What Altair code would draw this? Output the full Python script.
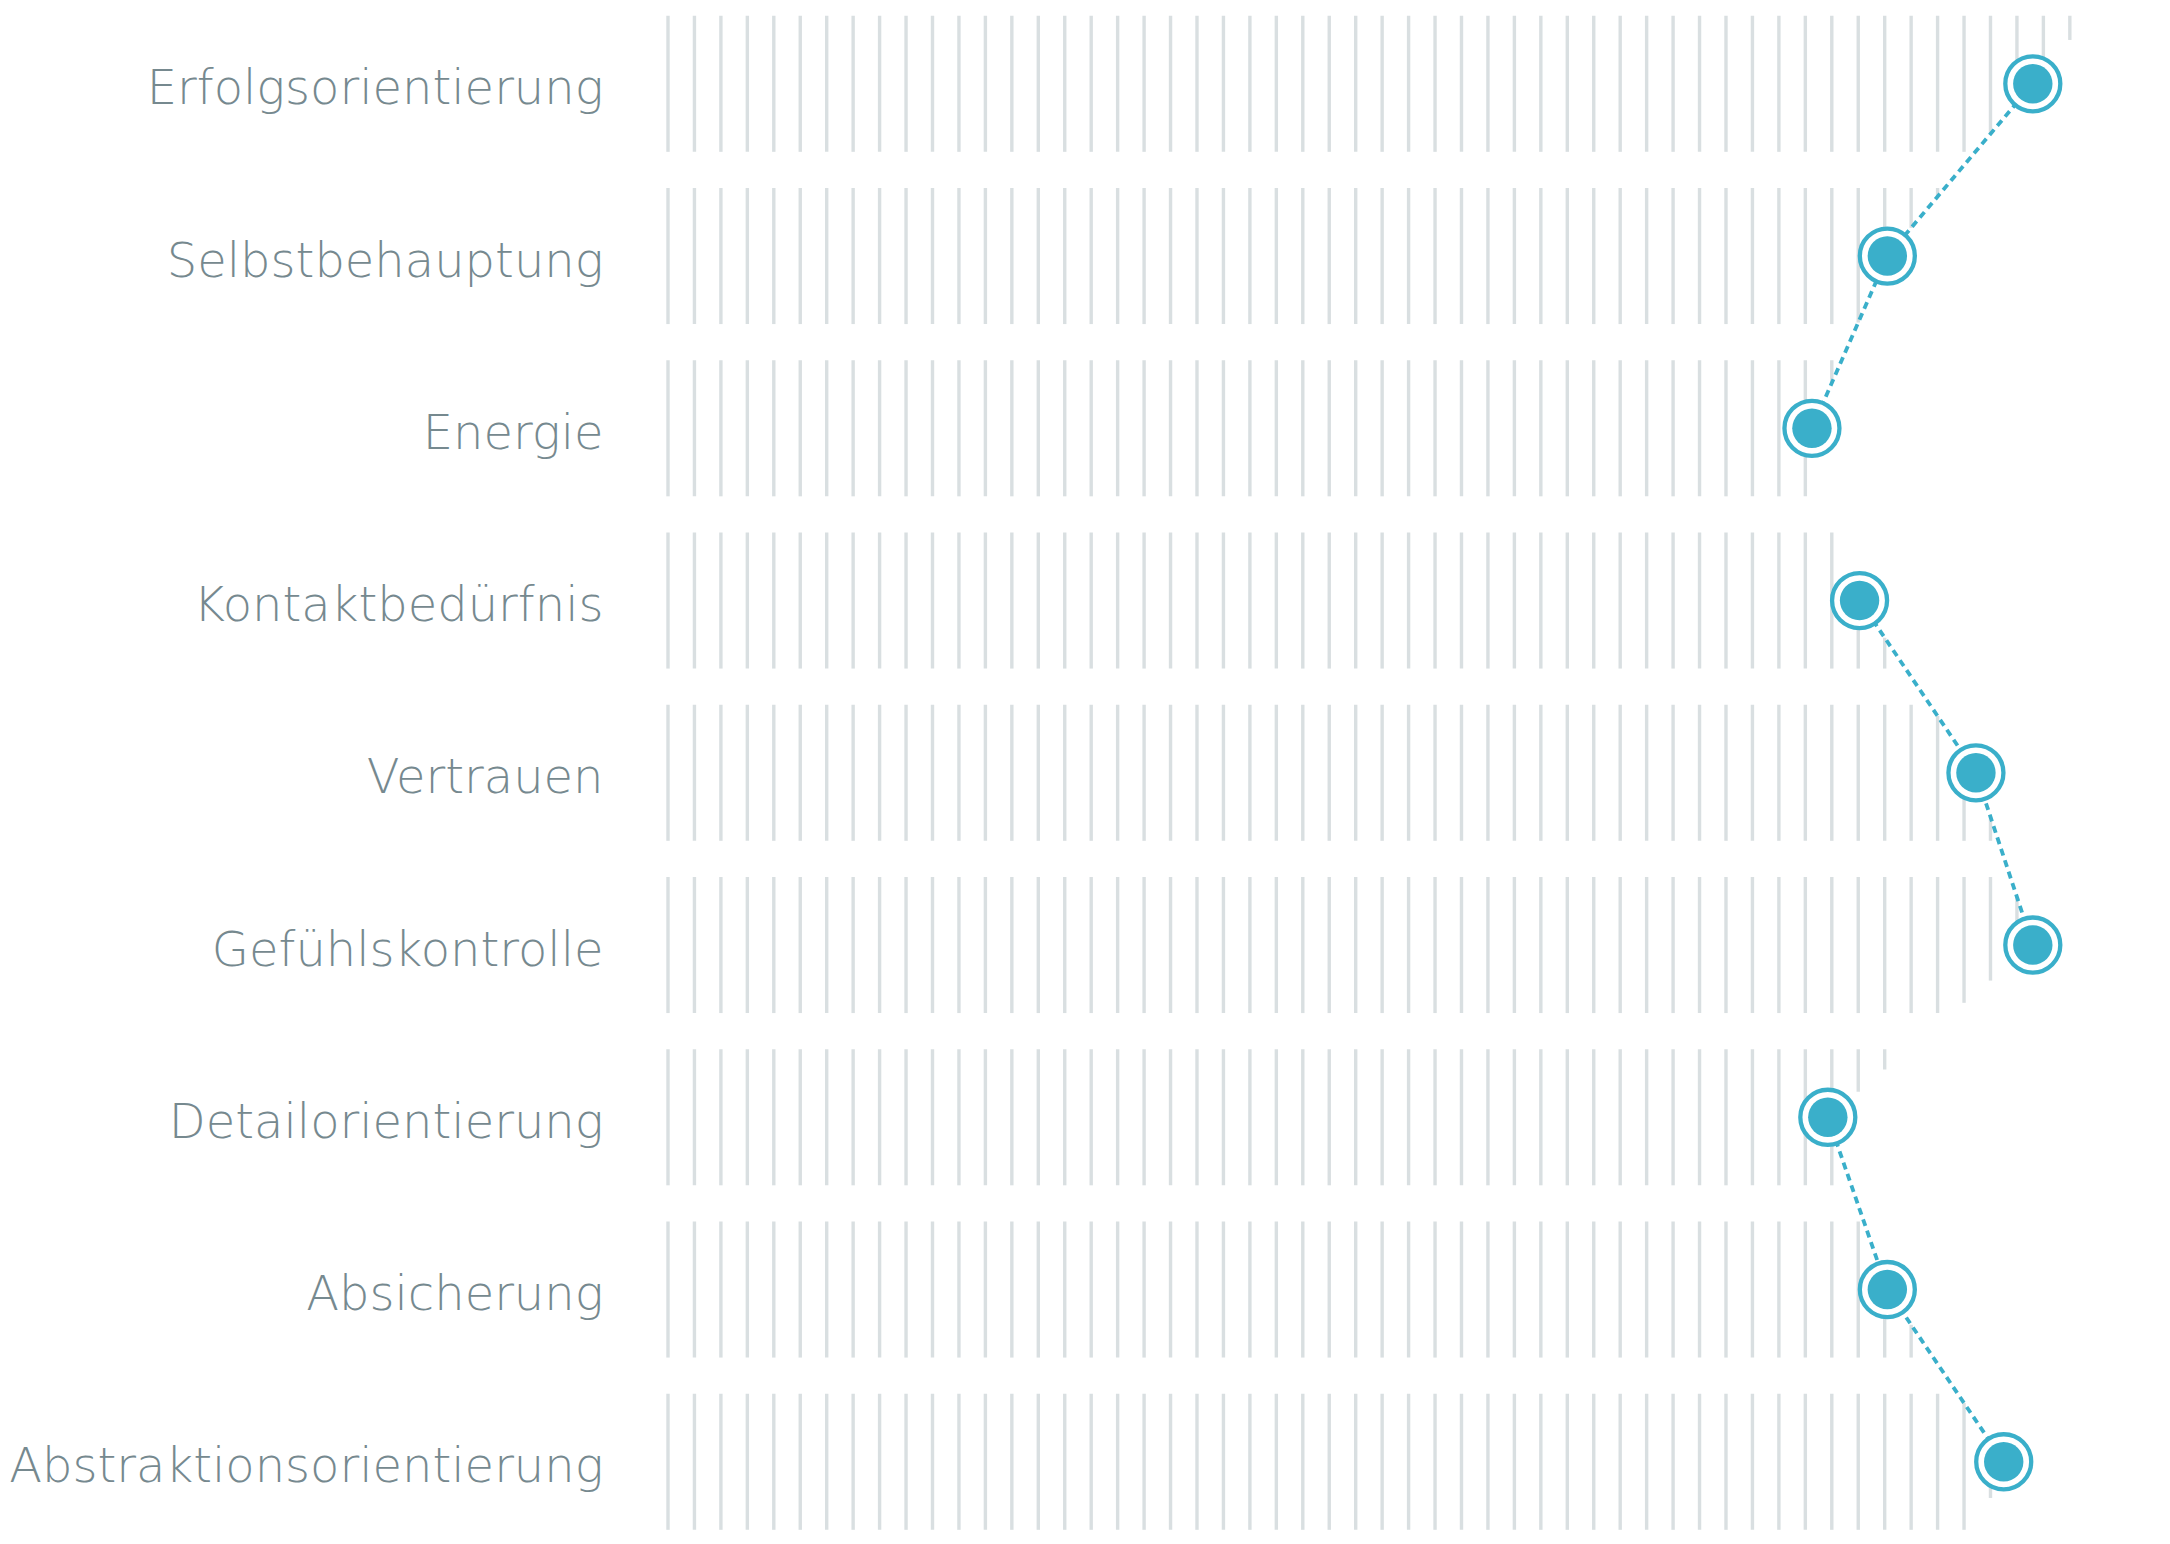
import altair as alt
import pandas as pd

# ---- data ----
labels = [
    "Erfolgsorientierung",
    "Selbstbehauptung",
    "Energie",
    "Kontaktbedürfnis",
    "Vertrauen",
    "Gefühlskontrolle",
    "Detailorientierung",
    "Absicherung",
    "Abstraktionsorientierung",
]
groups = [1, 1, 1, 2, 2, 2, 3, 3, 3]   # the dashed line joins the rows of a group
scores = [51.6, 46.1, 43.25, 45.05, 49.45, 51.6, 43.85, 46.1, 50.5]
stripe_count = 54          # vertical hatch lines per row (0 .. 53)
tail_score = 49.5          # where the hatching ends below the last row

X_MAX = 56
Y_TOP, Y_BOT = -0.44, 8.42
HALF_ROW = 0.395

TEAL = "#3AAFCA"
STRIPE = "#D9DFE1"
LABEL = "#76898F"

rows = list(range(len(labels)))

# profile through the scores (extended above the first and below the last row)
top_ext = scores[0] + (scores[0] - scores[1]) * (0 - Y_TOP)
prof_y = [Y_TOP] + rows + [Y_BOT]
prof_x = [top_ext] + scores + [tail_score]


def visible_parts(p, a, b):
    """y-intervals of [a, b] where the profile lies to the right of x = p."""
    parts = []
    for k in range(len(prof_y) - 1):
        ya, yb = prof_y[k], prof_y[k + 1]
        y0, y1 = max(ya, a), min(yb, b)
        if y1 <= y0:
            continue
        f = lambda y: prof_x[k] + (prof_x[k + 1] - prof_x[k]) * (y - ya) / (yb - ya) - p
        f0, f1 = f(y0), f(y1)
        if f0 > 0 and f1 > 0:
            parts.append([y0, y1])
        elif f0 <= 0 and f1 <= 0:
            continue
        else:
            t = y0 + (y1 - y0) * f0 / (f0 - f1)
            parts.append([y0, t] if f0 > 0 else [t, y1])
    merged = []
    for s in parts:
        if merged and abs(merged[-1][1] - s[0]) < 1e-9:
            merged[-1][1] = s[1]
        else:
            merged.append(s)
    return merged


stripe_rows = []
for r in rows:
    for i in range(stripe_count):
        for y0, y1 in visible_parts(i, r - HALF_ROW, r + HALF_ROW):
            stripe_rows.append({"row": r, "pos": i, "y0": y0, "y1": y1})
stripes = pd.DataFrame(stripe_rows)

points = pd.DataFrame({"row": rows, "score": scores, "label": labels, "group": groups})

xscale = alt.Scale(domain=[0, X_MAX], nice=False, zero=False)
yscale = alt.Scale(domain=[Y_TOP, Y_BOT], nice=False, zero=False, reverse=True)

label_expr = "[" + ",".join("'" + l + "'" for l in labels) + "][datum.value]"

yaxis = alt.Axis(
    values=rows,
    labelExpr=label_expr,
    title=None,
    grid=False,
    domain=False,
    ticks=False,
    tickSize=0,
    labelPadding=65,
    labelOffset=6,
    labelFont="DejaVu Sans",
    labelFontWeight=200,
    labelFontSize=48,
    labelColor=LABEL,
    labelAlign="right",
    labelBaseline="middle",
    labelLimit=0,
)

hatch = (
    alt.Chart(stripes)
    .mark_rule(color=STRIPE, strokeWidth=3.4)
    .encode(
        x=alt.X("pos:Q", scale=xscale, axis=None),
        y=alt.Y("y0:Q", scale=yscale, axis=yaxis),
        y2="y1:Q",
    )
)

line = (
    alt.Chart(points)
    .mark_line(color=TEAL, strokeWidth=3.8, strokeDash=[7, 5])
    .encode(
        x=alt.X("score:Q", scale=xscale),
        y=alt.Y("row:Q", scale=yscale),
        detail="group:N",
        order="row:Q",
    )
)

ring = (
    alt.Chart(points)
    .mark_point(shape="circle", filled=False, fill="white", fillOpacity=1,
                stroke=TEAL, strokeWidth=4.3, size=3025, opacity=1)
    .encode(
        x=alt.X("score:Q", scale=xscale),
        y=alt.Y("row:Q", scale=yscale),
    )
)

dot = (
    alt.Chart(points)
    .mark_circle(color=TEAL, size=1552, opacity=1)
    .encode(
        x=alt.X("score:Q", scale=xscale),
        y=alt.Y("row:Q", scale=yscale),
        tooltip=["label:N", "score:Q"],
    )
)

chart = (
    alt.layer(hatch, line, ring, dot)
    .properties(
        width=X_MAX * 26.45,
        height=(Y_BOT - Y_TOP) * 172.25,
        autosize=alt.AutoSizeParams(type="none"),
        padding={"left": 660, "top": 0, "right": 0, "bottom": 0},
        background="white",
    )
    .configure_view(stroke=None)
)

chart.save("out.html", embed_options={"renderer": "svg", "actions": False})
